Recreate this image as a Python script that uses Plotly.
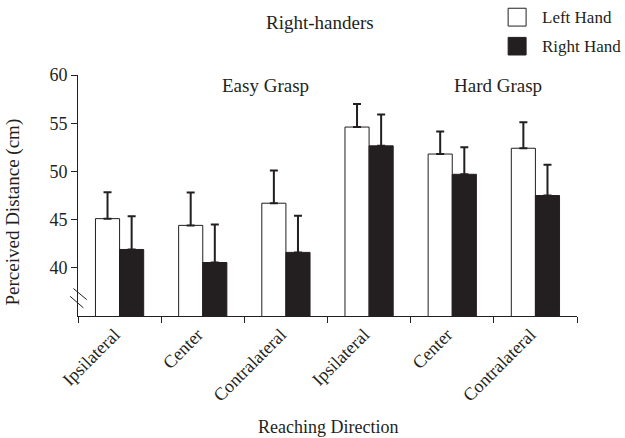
import plotly.graph_objects as go

# Reaching directions, grouped as Easy Grasp (first three) and Hard Grasp (last three)
directions = ["Ipsilateral", "Center", "Contralateral", "Ipsilateral", "Center", "Contralateral"]
category_ids = ["e_ipsi", "e_center", "e_contra", "h_ipsi", "h_center", "h_contra"]

series_names = ["Left Hand", "Right Hand"]
left_hand_mean = [45.1, 44.4, 46.7, 54.6, 51.8, 52.4]
left_hand_err = [2.75, 3.4, 3.4, 2.4, 2.35, 2.7]
right_hand_mean = [41.9, 40.55, 41.6, 52.65, 49.7, 47.5]
right_hand_err = [3.45, 3.95, 3.8, 3.25, 2.8, 3.2]

y_ticks = [40, 45, 50, 55, 60]

INK = "#231f20"
FONT = "Liberation Serif"


def label(text, x, y, size=19, **kw):
    return dict(text=text, x=x, y=y, xref="paper", yref="paper", showarrow=False,
                xanchor=kw.pop("xanchor", "center"), yanchor="middle",
                font=dict(size=size), **kw)


fig = go.Figure()
fig.add_trace(go.Bar(
    x=category_ids, y=left_hand_mean, name=series_names[0],
    marker=dict(color="white", line=dict(color=INK, width=1)),
    error_y=dict(type="data", array=left_hand_err, arrayminus=[0] * 6,
                 color=INK, thickness=2, width=4),
))
fig.add_trace(go.Bar(
    x=category_ids, y=right_hand_mean, name=series_names[1],
    marker=dict(color=INK, line=dict(color=INK, width=1)),
    error_y=dict(type="data", array=right_hand_err, arrayminus=[0] * 6,
                 color=INK, thickness=2, width=4),
))

annotations = [
    label("Right-handers", 0.485, 1.216),
    label("Easy Grasp", 0.376, 0.955),
    label("Hard Grasp", 0.842, 0.955),
    label("Perceived Distance (cm)", -0.131, 0.432, textangle=-90),
    label("Reaching Direction", 0.501, -0.462, size=18),
]

# Legend drawn as boxes with labels above the plot area
legend_fill = ["white", INK]
legend_y = [(1.203, 1.277), (1.083, 1.156)]
shapes = []
for name, fill, (y0, y1) in zip(series_names, legend_fill, legend_y):
    shapes.append(dict(type="rect", xref="paper", yref="paper",
                       x0=0.862, x1=0.898, y0=y0, y1=y1,
                       fillcolor=fill, line=dict(color=INK, width=1)))
    annotations.append(label(name, 0.926, (y0 + y1) / 2, size=17, xanchor="left"))

# Axis break marks near the bottom of the y axis
for (x0, y0, x1, y1) in [(-0.0092, 37.85, 0.0175, 36.7), (-0.016, 37.05, 0.0108, 35.85)]:
    shapes.append(dict(type="line", xref="paper", yref="y", x0=x0, y0=y0, x1=x1, y1=y1,
                       line=dict(color=INK, width=1)))

fig.update_layout(
    width=625, height=438,
    margin=dict(l=78, r=48, t=75, b=122),
    paper_bgcolor="white", plot_bgcolor="white",
    barmode="group", bargap=0.42, bargroupgap=0,
    showlegend=False,
    font=dict(family=FONT, color=INK, size=18),
    annotations=annotations,
    shapes=shapes,
    xaxis=dict(
        type="category", tickmode="array", tickvals=category_ids, ticktext=directions,
        tickangle=-45, tickson="boundaries", ticks="outside", ticklen=6, tickwidth=1,
        tickcolor=INK, showline=True, linecolor=INK, linewidth=1, showgrid=False,
        tickfont=dict(size=18), ticklabelshift=-5, zeroline=False,
    ),
    yaxis=dict(
        range=[35, 60], tickmode="array", tickvals=y_ticks,
        ticks="outside", ticklen=6, tickwidth=1, tickcolor=INK,
        showline=True, linecolor=INK, linewidth=1, showgrid=False, zeroline=False,
        tickfont=dict(size=18),
    ),
)

fig.write_html("out.html")
